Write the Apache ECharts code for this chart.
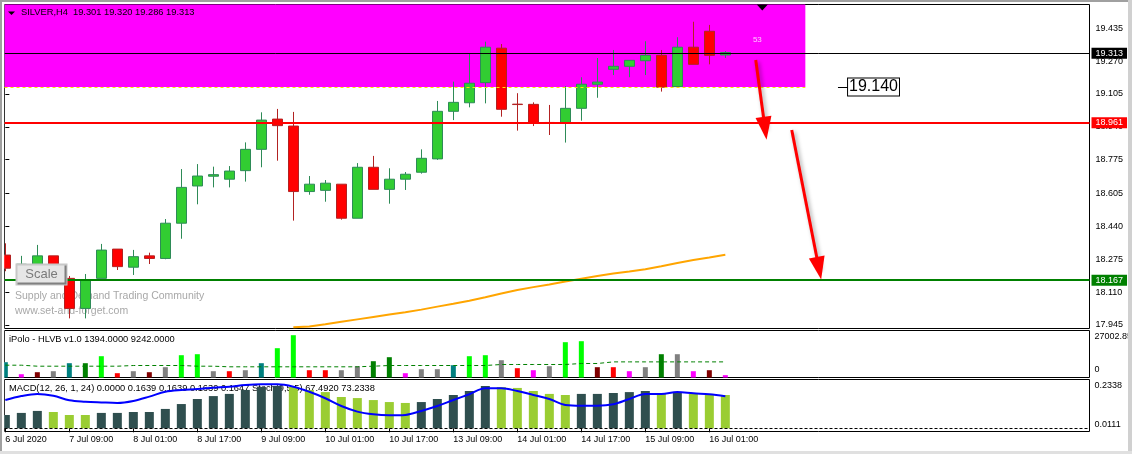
<!DOCTYPE html>
<html><head><meta charset="utf-8">
<script src="https://cdn.jsdelivr.net/npm/echarts@6/dist/echarts.min.js"></script>
<style>html,body{margin:0;padding:0;background:#fff}#c{width:1132px;height:454px}</style>
</head><body><div id="c"></div>
<script>
// ---------- data ----------
const opens  = [18.296,18.230,18.250,18.292,18.179,18.028,18.179,18.326,18.235,18.292,18.279,18.456,18.643,18.692,18.677,18.720,18.827,18.979,18.944,18.615,18.621,18.652,18.481,18.737,18.626,18.677,18.712,18.779,19.018,19.061,19.162,19.335,19.054,19.053,18.962,18.961,19.033,19.154,19.229,19.244,19.272,19.299,19.142,19.340,19.420,19.301];
const closes = [18.230,18.250,18.292,18.240,18.028,18.171,18.321,18.238,18.288,18.279,18.456,18.636,18.693,18.700,18.718,18.827,18.974,18.946,18.615,18.652,18.657,18.481,18.737,18.626,18.677,18.702,18.782,19.018,19.063,19.159,19.340,19.028,19.052,18.961,18.958,19.033,19.154,19.165,19.244,19.274,19.299,19.139,19.340,19.254,19.299,19.313];
const lows   = [18.215,18.200,18.225,18.160,17.978,17.978,18.179,18.221,18.196,18.251,18.275,18.378,18.551,18.636,18.636,18.665,18.737,18.770,18.469,18.599,18.564,18.474,18.481,18.626,18.554,18.623,18.705,18.774,18.974,19.038,19.058,18.991,18.921,18.944,18.899,18.861,18.971,19.086,19.200,19.189,19.200,19.117,19.142,19.254,19.254,19.286];
const highs  = [18.355,18.292,18.347,18.292,18.191,18.201,18.352,18.326,18.322,18.308,18.477,18.728,18.753,18.740,18.743,18.862,19.013,19.030,19.015,18.693,18.673,18.652,18.758,18.794,18.732,18.713,18.827,19.070,19.167,19.309,19.368,19.356,19.109,19.063,19.050,19.145,19.189,19.286,19.326,19.274,19.370,19.326,19.390,19.468,19.452,19.320];

const maStart = 18;
const maValues = [17.933,17.937,17.948,17.961,17.973,17.985,17.997,18.009,18.022,18.037,18.051,18.067,18.084,18.103,18.121,18.135,18.148,18.163,18.177,18.191,18.204,18.214,18.225,18.240,18.256,18.271,18.284,18.298];

const volumes = [9060,1950,3140,3730,8470,8470,12610,2550,3730,3140,6100,13200,13790,3730,3730,4320,8470,17350,25040,4320,4320,4320,6690,9650,12020,2550,4910,4910,7280,12610,13200,10240,5510,4320,6690,20900,21490,6100,6100,3730,6100,13790,13790,3730,4320,1394];
const volumeTypes = ['T','M','D','G','T','N','L','R','G','D','G','L','L','G','R','G','T','L','L','R','R','G','G','N','N','M','G','G','T','L','L','G','R','M','G','L','L','D','R','M','G','N','G','M','D','M'];
const volumeAvg = [7280,7280,6690,6690,6690,6690,6690,6690,7100,7100,7100,7100,6690,6690,6330,6330,6330,6330,6330,6330,6330,6330,6330,6690,7100,7100,7100,7100,7100,7100,7100,7700,7700,7700,7700,7700,8290,8290,9242,9242,9242,9242,9242,9242,9242,9242];

const macdHist = [0.0735,0.085,0.096,0.090,0.0735,0.0735,0.085,0.085,0.090,0.090,0.107,0.134,0.162,0.178,0.190,0.212,0.228,0.2338,0.228,0.212,0.200,0.173,0.167,0.156,0.145,0.140,0.145,0.162,0.184,0.206,0.2338,0.228,0.223,0.206,0.190,0.184,0.190,0.190,0.195,0.200,0.206,0.190,0.200,0.190,0.184,0.184];
const macdTypes = ['D','D','D','L','L','L','D','D','D','D','D','D','D','D','D','D','D','D','L','L','L','L','L','L','L','L','D','D','D','D','D','L','L','L','L','L','D','D','D','D','D','L','D','L','L','L'];
const macdLine = [0.156,0.178,0.190,0.180,0.155,0.147,0.143,0.140,0.151,0.175,0.202,0.212,0.217,0.224,0.230,0.239,0.243,0.243,0.230,0.202,0.166,0.123,0.092,0.077,0.072,0.074,0.096,0.123,0.156,0.188,0.221,0.221,0.206,0.184,0.162,0.129,0.125,0.125,0.133,0.162,0.190,0.190,0.200,0.193,0.188,0.177];

const priceTicks = [17.945,18.110,18.275,18.440,18.605,18.775,18.940,19.105,19.270,19.435];
const timeTickPos = [0,4,8,12,16,20,24,28,32,36,40,44];
const timeTickLabels = ['6 Jul 2020','7 Jul 09:00','8 Jul 01:00','8 Jul 17:00','9 Jul 09:00','10 Jul 01:00','10 Jul 17:00','13 Jul 09:00','14 Jul 01:00','14 Jul 17:00','15 Jul 09:00','16 Jul 01:00'];
const volumeTicks = [0, 27002.85];
const macdTicks = [0.2338, 0.0111];

const levelValues = [19.313, 18.961, 18.167];
const zoneBottom = 19.140, zoneEndBar = 50;
const arrowSegments = [[46.90,19.276,47.48,18.933],[49.15,18.924,50.85,18.230]];
const targetValue = 19.140, targetBars = [52.04, 52.67];
const zoneCountBar = 47, zoneCountPrice = 19.376, shiftBar = 47.31;

// ---------- chart ----------
const FONT = "'Liberation Sans', Arial, sans-serif";
const X_MIN = -0.052, X_MAX = 67.76;
const Y_MIN = 17.9272, Y_MAX = 19.5545;
const volColors = {T:'#008080', M:'#FF00FF', D:'#800000', G:'#808080', N:'#008000', L:'#00FF00', R:'#FF0000'};
const macdColors = {D:'#2F4F4F', L:'#9ACD32'};

const candleData = opens.map((o,i)=>[i,o,closes[i],lows[i],highs[i]]);
const maData = maValues.map((v,i)=>[maStart+i, v]);

function levelLine(v, color, width){
  return {yAxis: v, lineStyle:{color, width, type:'solid'},
    label:{show:true, position:'end', distance:2, formatter: v.toFixed(3), color:'#fff', backgroundColor: color,
      fontFamily: FONT, fontSize: 9, lineHeight: 10, padding:[1,4,0,4]}};
}

const grids = [
  {left:4.5, top:4.5, width:1085, height:324},
  {left:4.5, top:330.5, width:1085, height:47},
  {left:4.5, top:379.5, width:1085, height:52}
].map(g=>Object.assign(g,{show:true, borderColor:'#000', borderWidth:1, backgroundColor:'transparent',
  containLabel:false, outerBoundsMode:'none'}));

const xAxes = [0,1,2].map(k=>({
  type:'value', gridIndex:k, min:X_MIN, max:X_MAX, show: k===2,
  axisLine:{show:false}, splitLine:{show:false},
  axisTick:{show:k===2, length:4, customValues: timeTickPos, lineStyle:{color:'#000'}},
  axisLabel:{show:k===2, customValues: timeTickPos, align:'left', margin:4, color:'#000', fontFamily:FONT, fontSize:9,
    formatter: v => timeTickLabels[timeTickPos.indexOf(Math.round(v))]}
}));

const yAxes = [
  {type:'value', gridIndex:0, position:'right', min:Y_MIN, max:Y_MAX,
   axisLine:{show:false}, splitLine:{show:false},
   axisTick:{show:true, length:4, customValues: priceTicks, lineStyle:{color:'#000'}},
   axisLabel:{customValues: priceTicks, margin:6, color:'#000', fontFamily:FONT, fontSize:9, formatter: v=>v.toFixed(3)}},
  {type:'value', gridIndex:1, position:'right', min:0, max:27824,
   axisLine:{show:false}, splitLine:{show:false}, axisTick:{show:false},
   axisLabel:{customValues: volumeTicks, margin:5, color:'#000', fontFamily:FONT, fontSize:9,
     formatter: v => v > 0 ? '{t|' + v.toFixed(2) + '}' : '{b|0}',
     rich:{t:{padding:[10,0,0,0], fontFamily:FONT, fontSize:9, color:'#000'}, b:{padding:[0,0,15,0], fontFamily:FONT, fontSize:9, color:'#000'}}}},
  {type:'value', gridIndex:2, position:'right', min:-0.01768, max:0.2696,
   axisLine:{show:false}, splitLine:{show:false}, axisTick:{show:false},
   axisLabel:{customValues: macdTicks, margin:5, color:'#000', fontFamily:FONT, fontSize:9,
     formatter: v => v > 0.1 ? '{t|' + v.toFixed(4) + '}' : '{b|' + v.toFixed(4) + '}',
     rich:{t:{padding:[0,0,0,0], fontFamily:FONT, fontSize:9, color:'#000'}, b:{padding:[0,0,4,0], fontFamily:FONT, fontSize:9, color:'#000'}}}}
];

const arrowStyle = {color:'#FF0000', width:3, type:'solid', shadowBlur:4, shadowColor:'rgba(0,0,0,0.35)', shadowOffsetX:2, shadowOffsetY:2};
const arrowLines = arrowSegments.map(a=>[
  {coord:[a[0],a[1]], symbol:'none', lineStyle:arrowStyle},
  {coord:[a[2],a[3]], symbol:'triangle', symbolSize:[16,23], lineStyle:arrowStyle, itemStyle:{color:'#FF0000'}}
]);

const option = {
  animation:false,
  backgroundColor:'#fff',
  textStyle:{fontFamily:FONT},
  title:[
    {text:'SILVER,H4  19.301 19.320 19.286 19.313', left:21, top:8, padding:0,
     textStyle:{fontFamily:FONT, fontSize:9.3, fontWeight:'normal', color:'#000'}},
    {text:'iPolo - HLVB v1.0 1394.0000 9242.0000', left:9, top:335, padding:0,
     textStyle:{fontFamily:FONT, fontSize:9.3, fontWeight:'normal', color:'#000'}},
    {text:'MACD(12, 26, 1, 24) 0.0000 0.1639 0.1639 0.1639 0.1647 Stoch(9,5,5) 67.4920 73.2338', left:9, top:384, padding:0, z:1,
     textStyle:{fontFamily:FONT, fontSize:9.3, fontWeight:'normal', color:'#000'}}
  ],
  grid: grids, xAxis: xAxes, yAxis: yAxes,
  series:[
    {type:'line', name:'MA', xAxisIndex:0, yAxisIndex:0, z:1, data: maData, symbol:'none',
     lineStyle:{color:'#FFA500', width:2},
     markArea:{silent:true, itemStyle:{color:'#FF00FF', opacity:1},
       data:[[{coord:[X_MIN, zoneBottom]},{coord:[zoneEndBar, Y_MAX]}]]}},
    {type:'candlestick', name:'SILVER', xAxisIndex:0, yAxisIndex:0, z:2, clip:false,
     encode:{x:0, y:[1,2,3,4]}, data: candleData, barWidth:10,
     itemStyle:{color:'#32CD32', color0:'#FF0000', borderColor:'#2E8B57', borderColor0:'#B22222', borderWidth:1},
     markLine:{silent:true, symbol:'none', animation:false, label:{show:false},
       data:[
         levelLine(levelValues[0], '#000000', 1),
         levelLine(levelValues[1], '#FF0000', 2),
         levelLine(levelValues[2], '#008000', 2),
         [{coord:[X_MIN, zoneBottom], lineStyle:{color:'#FFE400', width:1, type:[3,3]}}, {coord:[zoneEndBar, zoneBottom]}],
         [{coord:[targetBars[0], targetValue], lineStyle:{color:'#000', width:1, type:'solid'}},
          {coord:[targetBars[1], targetValue],
           label:{show:true, position:'end', distance:0, formatter: targetValue.toFixed(3), color:'#000', backgroundColor:'#fff',
             borderColor:'#000', borderWidth:1, fontFamily:FONT, fontSize:16, lineHeight:16, padding:[1,1,0,1]}}],
         ...arrowLines
       ]},
     markPoint:{silent:true, animation:false,
       data:[
         {coord:[zoneCountBar, zoneCountPrice], symbol:'circle', symbolSize:0,
          label:{show:true, position:'inside', formatter:'53', color:'#FFC8FF', fontFamily:FONT, fontSize:8}},
         {coord:[shiftBar, Y_MAX], symbol:'triangle', symbolSize:[11,6], symbolRotate:180, symbolOffset:[0,3],
          itemStyle:{color:'#000'}, label:{show:false}}
       ]}},
    {type:'bar', name:'HLVB', xAxisIndex:1, yAxisIndex:1, barWidth:5,
     data: volumes.map((v,i)=>({value:[i,v], itemStyle:{color: volColors[volumeTypes[i]]}}))},
    {type:'line', name:'HLVB avg', xAxisIndex:1, yAxisIndex:1, symbol:'none', z:3,
     data: volumeAvg.map((v,i)=>[i,v]), lineStyle:{color:'#008000', width:1, type:[4,3]}},
    {type:'bar', name:'MACD', xAxisIndex:2, yAxisIndex:2, barWidth:9,
     data: macdHist.map((v,i)=>({value:[i,v], itemStyle:{color: macdColors[macdTypes[i]]}})),
     markLine:{silent:true, symbol:'none', label:{show:false},
       data:[{yAxis:0, lineStyle:{color:'#000', width:1, type:[3,2]}}]}},
    {type:'line', name:'Signal', xAxisIndex:2, yAxisIndex:2, symbol:'none', smooth:0.35, z:3,
     data: macdLine.map((v,i)=>[i,v]), lineStyle:{color:'#0000FF', width:2}}
  ],
  graphic:[
    {type:'text', left:15, top:291, z:0, style:{text:'Supply and Demand Trading Community', fill:'#A8A8A8', font:"10.5px 'Liberation Sans', Arial, sans-serif"}},
    {type:'text', left:15, top:306, z:0, style:{text:'www.set-and-forget.com', fill:'#A8A8A8', font:"10.5px 'Liberation Sans', Arial, sans-serif"}},
    {type:'group', left:15, top:263, z:10, children:[
      {type:'rect', z:10, shape:{x:0,y:0,width:50,height:20}, style:{fill:'#E6E6E6', stroke:'#C8C8C8', lineWidth:2}},
      {type:'polyline', z:11, shape:{points:[[1,19],[49,19],[49,1]]}, style:{stroke:'#808080', lineWidth:2, fill:null}},
      {type:'text', z:12, style:{text:'Scale', x:25, y:10, align:'center', verticalAlign:'middle', fill:'#7A7A7A', font:"13px 'Liberation Sans', Arial, sans-serif"}}
    ]},
    {type:'polygon', z:20, shape:{points:[[8,11.5],[15,11.5],[11.5,15]]}, style:{fill:'#000'}},
    {type:'rect', z:99, shape:{x:0,y:0,width:4.2,height:454}, style:{fill:'#fff'}},
    {type:'rect', z:100, shape:{x:0,y:0,width:1132,height:2}, style:{fill:'#A0A0A0'}},
    {type:'rect', z:100, shape:{x:0,y:0,width:2,height:454}, style:{fill:'#A0A0A0'}},
    {type:'rect', z:100, shape:{x:1128,y:0,width:4,height:454}, style:{fill:'#D0D0D0'}},
    {type:'rect', z:100, shape:{x:0,y:451,width:1132,height:3}, style:{fill:'#E0E0E0'}}
  ]
};

const chart = echarts.init(document.getElementById('c'), null, {renderer:'canvas'});
chart.setOption(option);
</script>
</body></html>
